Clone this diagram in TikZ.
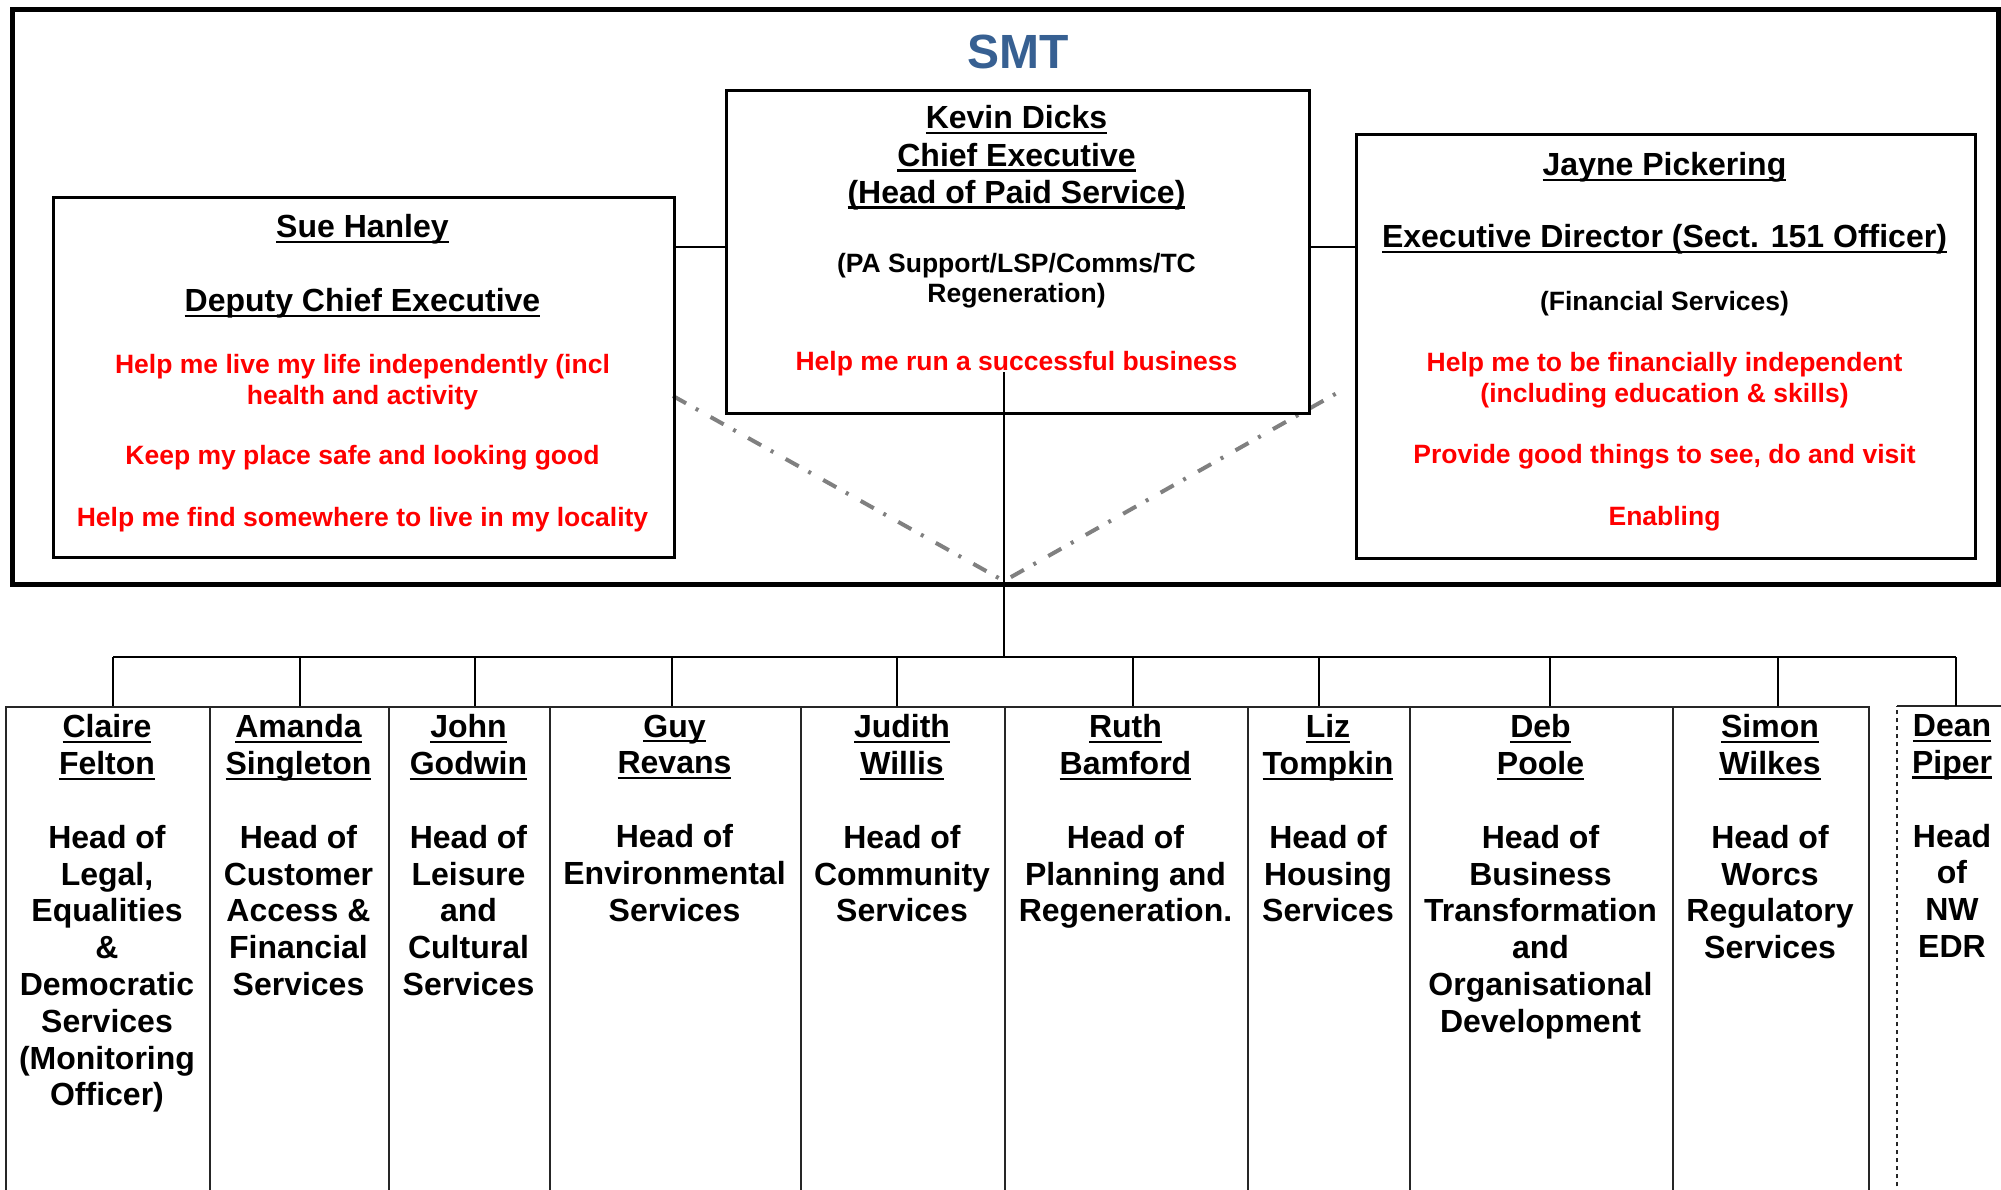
\documentclass[tikz,border=0pt]{standalone}
\usepackage{fontspec}
\setmainfont{Liberation Sans}
\definecolor{smtblue}{RGB}{55,96,146}
\definecolor{ddgray}{RGB}{128,128,128}
\definecolor{goalred}{RGB}{255,0,0}
\newcommand\ulx[1]{\setbox0\hbox{#1}\rlap{\rule[-0.17em]{\wd0}{0.08em}}\box0}
\begin{document}
\begin{tikzpicture}[x=1pt,y=-1pt,
  outerbox/.style={draw=black, line width=5pt, inner sep=0pt, anchor=north west},
  topbox/.style={draw=black, line width=3.4pt, inner sep=0pt, anchor=north west},
  colbox/.style={draw=black!85, line width=1.5pt, inner sep=0pt, anchor=north west},
  conn/.style={draw=black, line width=2pt},
  dd/.style={draw=ddgray, line width=4pt, dash pattern=on 15pt off 11pt on 3pt off 14pt},
  titletxt/.style={font=\fontsize{48}{55}\selectfont\bfseries, text=smtblue, anchor=north, inner sep=0pt},
  nm/.style={font=\fontsize{32}{37.3}\selectfont\bfseries, align=center, anchor=north, inner sep=0pt},
  colt/.style={font=\fontsize{32}{36.8}\selectfont\bfseries, align=center, anchor=north, inner sep=0pt},
  sm/.style={font=\fontsize{26.5}{30.7}\selectfont\bfseries, align=center, anchor=north, inner sep=0pt},
  goal/.style={text=goalred}]
\path[use as bounding box] (0,0) rectangle (2001,1189);
\begin{scope}
\clip (0,0) rectangle (2001,1189);
\fill[white] (0,0) rectangle (2001,1189);

% SMT frame and title
\coordinate (dl) at (673,396);
\coordinate (dm) at (1004,581);
\coordinate (dr) at (1337,393);
\draw[dd] (dl) -- (dm) -- (dr);
\node[outerbox, minimum width=1986pt, minimum height=575pt] (smt) at (9.5,6.5) {};
\node[titletxt] (smttitle) at (1018,34.8) {SMT};

% top boxes
\node[topbox, minimum width=621pt, minimum height=360pt] (sue) at (52,196) {};
\node[topbox, minimum width=583pt, minimum height=323pt] (kev) at (725,89) {};
\node[topbox, minimum width=619pt, minimum height=424pt] (jay) at (1355,133) {};
\coordinate (ylev) at (0,247);
\draw[conn] (sue.east |- ylev) -- (kev.west |- ylev);
\draw[conn] (kev.east |- ylev) -- (jay.west |- ylev);

% Sue
\node[nm] (s1) at (362.5,214.5) {\ulx{Sue Hanley}};
\node[nm] (s2) at (362.5,288.5) {\ulx{Deputy Chief Executive}};
\node[sm, goal] (s3) at (362.5,354) {Help me live my life independently (incl\\health and activity};
\node[sm, goal] (s4) at (362.5,445) {Keep my place safe and looking good};
\node[sm, goal] (s5) at (362.5,507) {Help me find somewhere to live in my locality};

% Kevin
\node[nm] (k1) at (1016.5,105.5) {\ulx{Kevin Dicks}\\\ulx{Chief Executive}\\\ulx{(Head of Paid Service)}};
\node[sm, font=\fontsize{26.5}{29.5}\selectfont\bfseries] (k2) at (1016.5,253.5) {(PA Support/LSP/Comms/TC\\Regeneration)};
\node[sm, goal] (k3) at (1016.5,351.5) {Help me run a successful business};

% Jayne
\node[nm] (j1) at (1664.5,152.5) {\ulx{Jayne Pickering}};
\node[nm] (j2) at (1664.5,224.5) {\ulx{Executive Director (Sect. 151 Officer)}};
\node[sm] (j3) at (1664.5,291.5) {(Financial Services)};
\node[sm, goal] (j4) at (1664.5,352.5) {Help me to be financially independent\\(including education \& skills)};
\node[sm, goal] (j5) at (1664.5,444.5) {Provide good things to see, do and visit};
\node[sm, goal] (j6) at (1664.5,506) {Enabling};

% trunk and bus
\coordinate (kd) at (1004,372);
\coordinate (hub) at (1004,657);
\draw[conn] (kd) -- (hub);
\coordinate (busL) at (113,657);
\coordinate (busR) at (1956,657);
\draw[conn] (busL) -- (busR);

% columns
\foreach \i/\l/\r/\d in {1/5/209/113, 2/209/388/300, 3/388/549/474.5, 4/549/800/671.5,
   5/800/1004/897, 6/1004/1247/1133, 7/1247/1409/1319, 8/1409/1672/1550, 9/1672/1868/1778}{
  \node[colbox, minimum width={(\r-\l)*1pt}, minimum height=520pt] (b\i) at (\l,706) {};
  \coordinate (jn\i) at (\d,657);
  \draw[conn] (jn\i) -- (jn\i |- b\i.north);
}
\node[inner sep=0pt, anchor=north west, minimum width=115pt, minimum height=520pt] (b10) at (1897,706) {};
\draw[draw=black!85, line width=1.5pt, dash pattern=on 4pt off 4pt] (b10.south west) -- (b10.north west);
\draw[draw=black!85, line width=1.5pt] (b10.north west) -- (b10.north east);
\coordinate (jn10) at (1956,657);
\draw[conn] (jn10) -- (jn10 |- b10.north);

% column texts
\node[colt] (t1) at (107,714.5) {\ulx{Claire}\\\ulx{Felton}\\[36.8pt]Head of\\Legal,\\Equalities\\\&\\Democratic\\Services\\(Monitoring\\Officer)};
\node[colt] (t2) at (298.5,714.5) {\ulx{Amanda}\\\ulx{Singleton}\\[36.8pt]Head of\\Customer\\Access \&\\Financial\\Services};
\node[colt] (t3) at (468.5,714.5) {\ulx{John}\\\ulx{Godwin}\\[36.8pt]Head of\\Leisure\\and\\Cultural\\Services};
\node[colt] (t4) at (674.5,714.5) {\ulx{Guy}\\\ulx{Revans}\\[36.8pt]Head of\\Environmental\\Services};
\node[colt] (t5) at (902,714.5) {\ulx{Judith}\\\ulx{Willis}\\[36.8pt]Head of\\Community\\Services};
\node[colt] (t6) at (1125.5,714.5) {\ulx{Ruth}\\\ulx{Bamford}\\[36.8pt]Head of\\Planning and\\Regeneration.};
\node[colt] (t7) at (1328,714.5) {\ulx{Liz}\\\ulx{Tompkin}\\[36.8pt]Head of\\Housing\\Services};
\node[colt] (t8) at (1540.5,714.5) {\ulx{Deb}\\\ulx{Poole}\\[36.8pt]Head of\\Business\\Transformation\\and\\Organisational\\Development};
\node[colt] (t9) at (1770,714.5) {\ulx{Simon}\\\ulx{Wilkes}\\[36.8pt]Head of\\Worcs\\Regulatory\\Services};
\node[colt] (t10) at (1952,714.5) {\ulx{Dean}\\\ulx{Piper}\\[36.8pt]Head\\of\\NW\\EDR};
\end{scope}
\end{tikzpicture}
\end{document}
